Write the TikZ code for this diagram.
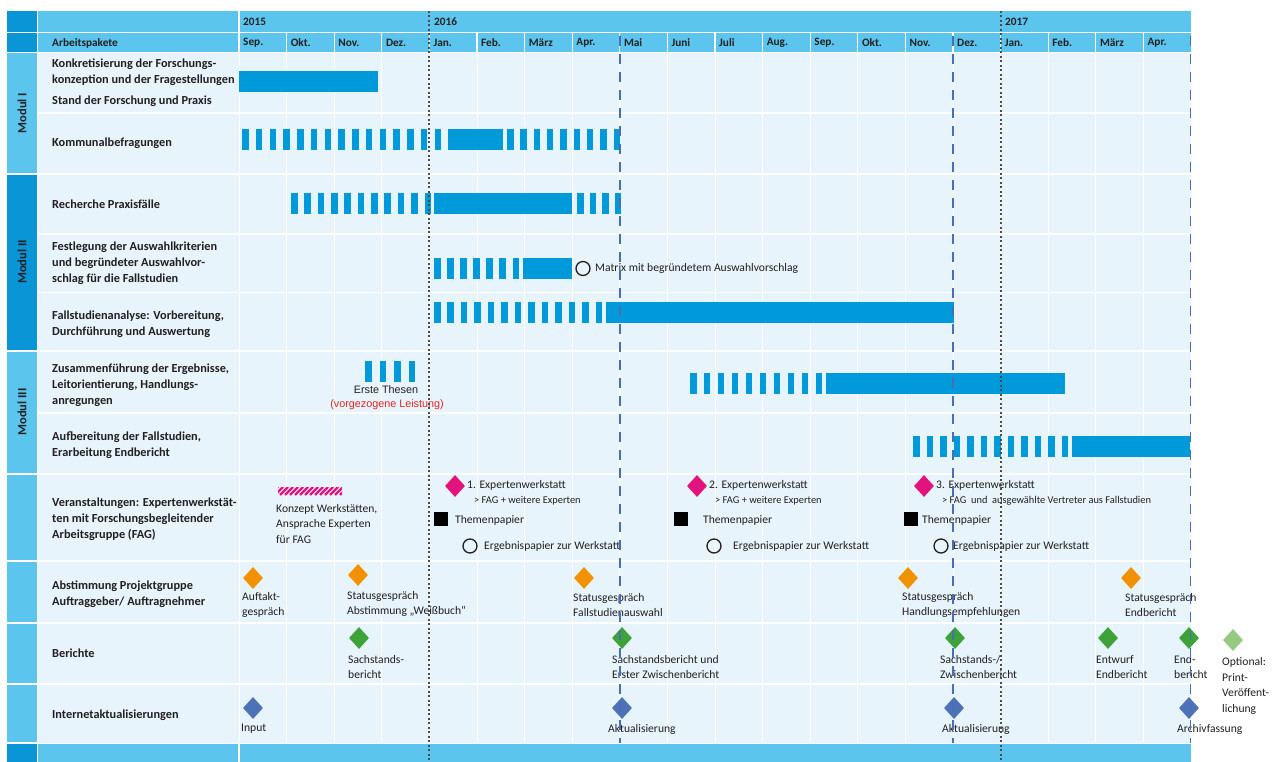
\documentclass[tikz,border=0pt]{standalone}
\usepackage{fontspec}
\setmainfont{Carlito}
\newfontfamily\arialf{Liberation Sans}
\usetikzlibrary{shapes.geometric}
\definecolor{hdr}{HTML}{5BC5EE}
\definecolor{hdrdark}{HTML}{0A96D6}
\definecolor{bodyc}{HTML}{E7F4FC}
\definecolor{barc}{HTML}{0099DA}
\definecolor{dashc}{HTML}{4A6DB3}
\definecolor{pinkc}{HTML}{E2137C}
\definecolor{orangec}{HTML}{F39200}
\definecolor{greenc}{HTML}{3DA23A}
\definecolor{lgreenc}{HTML}{98C982}
\definecolor{bluec}{HTML}{4D72B8}
\definecolor{txt}{HTML}{231F20}
\definecolor{redc}{HTML}{E52421}
\newcommand{\stripesrow}[4]{%
  \pgfmathsetmacro\stper{(#2-#1-6.5)/(#4-1)}%
  \foreach \k in {1,...,#4}{\fill[barc] ({#1+(\k-1)*\stper},{#3-10.5}) rectangle ++(6.5,21);}%
}
\tikzset{
  task/.style={anchor=west, align=left, inner sep=0, text=txt, font=\fontsize{12.3}{16}\selectfont\bfseries},
  hdrtxt/.style={anchor=west, inner sep=0, text=txt, font=\fontsize{11.3}{12}\selectfont\bfseries},
  lbl/.style={anchor=west, align=left, inner sep=0, text=txt, font=\fontsize{11.6}{15.5}\selectfont},
  sublbl/.style={anchor=west, inner sep=0, text=txt, font=\fontsize{10.4}{11}\selectfont},
  modtxt/.style={rotate=90, inner sep=0, text=txt, font=\fontsize{12.5}{13}\selectfont\bfseries},
  dia/.style={diamond, inner sep=0, minimum width=20, minimum height=22},
  opencirc/.style={circle, draw=txt, line width=1.3, minimum size=14, inner sep=0},
  blksq/.style={fill=black, minimum size=14, inner sep=0},
  gridl/.style={white, line width=0.8},
  rowl/.style={white, line width=1.8},
  dotl/.style={line width=2, black!70, dash pattern=on 2pt off 2.5pt},
  dashl/.style={line width=1.6, dashc, dash pattern=on 10pt off 8pt},
}
\begin{document}
\begin{tikzpicture}[x=1pt,y=-1pt]
\useasboundingbox (0,0) rectangle (1277,762);
% header
\fill[hdrdark] (7,11) rectangle (37,32);
\fill[hdrdark] (7,33) rectangle (37,52);
\fill[hdr] (38,11) rectangle (1191,32);
\fill[hdr] (38,33) rectangle (1191,52);
\draw[white, line width=1.2] (239,11) -- (239,52);
\foreach \i in {1,...,19}{\draw[white, line width=1.2] ({239+47.6*\i},33) -- ({239+47.6*\i},52);}
% body
\fill[bodyc] (38,53) rectangle (1191,743);
\foreach \i in {0,...,19}{\draw[gridl] ({239+47.6*\i},53) -- ({239+47.6*\i},743);}
\foreach \yy in {113,174,234,292.5,351,413,474,561,623,684}{\draw[rowl] (38,\yy) -- (1191,\yy);}
% module strips
\fill[hdr] (7,53) rectangle (37,173);
\fill[hdrdark] (7,175) rectangle (37,350);
\fill[hdr] (7,352) rectangle (37,473);
\fill[hdr] (7,475) rectangle (37,560);
\fill[hdr] (7,562) rectangle (37,622);
\fill[hdr] (7,624) rectangle (37,683);
\fill[hdr] (7,685) rectangle (37,742);
\fill[hdrdark] (7,744) rectangle (37,762);
\fill[hdr] (38,744) rectangle (1191,762);
\draw[white, line width=1.2] (239,744) -- (239,762);
\node[modtxt] (mod1) at (22,113) {Modul I};
\node[modtxt] (mod2) at (22,262) {Modul II};
\node[modtxt] (mod3) at (22,412) {Modul III};
% header text
\node[hdrtxt] (y2015) at (243,21.5) {2015};
\node[hdrtxt] (y2016) at (434,21.5) {2016};
\node[hdrtxt] (y2017) at (1005,21.5) {2017};
\node[hdrtxt] (ap) at (52,43) {Arbeitspakete};
\foreach \m [count=\i from 0] in {Sep.,Okt.,Nov.,Dez.,Jan.,Feb.,März,Apr.,Mai,Juni,Juli,Aug.,Sep.,Okt.,Nov.,Dez.,Jan.,Feb.,März,Apr.}{
  \node[hdrtxt] (mon\i) at ({239+47.6*\i+4},43) {\m};
}
% task labels
\node[task] (t1) at (52,72) {Konkretisierung der Forschungs-\\konzeption und der Fragestellungen};
\node[task] (t1b) at (52,101) {Stand der Forschung und Praxis};
\node[task] (t2) at (52,143) {Kommunalbefragungen};
\node[task] (t3) at (52,204) {Recherche Praxisfälle};
\node[task] (t4) at (52,263) {Festlegung der Auswahlkriterien\\und begründeter Auswahlvor-\\schlag für die Fallstudien};
\node[task] (t5) at (52,324) {Fallstudienanalyse: Vorbereitung,\\Durchführung und Auswertung};
\node[task] (t6) at (52,385) {Zusammenführung der Ergebnisse,\\Leitorientierung, Handlungs-\\anregungen};
\node[task] (t7) at (52,445) {Aufbereitung der Fallstudien,\\Erarbeitung Endbericht};
\node[task] (t8) at (52,519) {Veranstaltungen: Expertenwerkstät-\\ten mit Forschungsbegleitender\\Arbeitsgruppe (FAG)};
\node[task] (t9) at (52,594) {Abstimmung Projektgruppe\\Auftraggeber/ Auftragnehmer};
\node[task] (t10) at (52,653) {Berichte};
\node[task] (t11) at (52,715) {Internetaktualisierungen};
% bars
\fill[barc] (239,71) rectangle (378,92);
\stripesrow{242}{441}{139.5}{15}
\fill[barc] (448,129) rectangle (503,150);
\stripesrow{507}{620}{139.5}{9}
\stripesrow{291}{431}{204}{11}
\fill[barc] (434,193.5) rectangle (572,214.5);
\stripesrow{577}{621}{204}{4}
\stripesrow{434}{519}{268.5}{7}
\fill[barc] (523,258) rectangle (572,279);
\node[opencirc] (c0) at (583,268.5) {};
\node[sublbl, font=\fontsize{11.6}{12}\selectfont] (matrix) at (595,268.5) {Matrix mit begründetem Auswahlvorschlag};
\stripesrow{434}{602}{312}{13}
\fill[barc] (606,301.5) rectangle (954,322.5);
\stripesrow{365}{415}{371}{4}
\node[inner sep=0, text=txt, font=\arialf\fontsize{10.8}{12}\selectfont] (these) at (386,390) {Erste Thesen};
\node[inner sep=0, text=redc, font=\arialf\fontsize{10.8}{12}\selectfont] (vorg) at (387,405) {(vorgezogene Leistung)};
\stripesrow{690}{822}{383}{10}
\fill[barc] (826,372.5) rectangle (1065,393.5);
\stripesrow{913}{1068}{446}{12}
\fill[barc] (1072,435.5) rectangle (1190,456.5);
% Veranstaltungen
\begin{scope}
\clip (278,487) rectangle (342,495);
\foreach \k in {0,...,15}{\draw[pinkc, line width=2.2] ({270+\k*5},495) -- ++(8,-8);}
\end{scope}
\node[lbl] (konz) at (276,524) {Konzept Werkstätten,\\Ansprache Experten\\ für FAG};
\node[dia, fill=pinkc] (w1) at (455,486) {};
\node[lbl] (w1t) at (467,485) {1. Expertenwerkstatt};
\node[sublbl] (w1s) at (474,501) {> FAG + weitere Experten};
\node[blksq] (q1) at (441,519) {};
\node[lbl] (q1t) at (455,520) {Themenpapier};
\node[opencirc] (e1) at (470,546) {};
\node[lbl] (e1t) at (484,546) {Ergebnispapier zur Werkstatt};
\node[dia, fill=pinkc] (w2) at (697,486) {};
\node[lbl] (w2t) at (709,485) {2. Expertenwerkstatt};
\node[sublbl] (w2s) at (715,501) {> FAG + weitere Experten};
\node[blksq] (q2) at (681,519) {};
\node[lbl] (q2t) at (703,520) {Themenpapier};
\node[opencirc] (e2) at (714,546) {};
\node[lbl] (e2t) at (733,546) {Ergebnispapier zur Werkstatt};
\node[dia, fill=pinkc] (w3) at (924,486) {};
\node[lbl] (w3t) at (936,485) {3. Expertenwerkstatt};
\node[sublbl] (w3s) at (942,501) {> FAG\ \ und\ \ ausgewählte Vertreter aus Fallstudien};
\node[blksq] (q3) at (911,519) {};
\node[lbl] (q3t) at (922,520) {Themenpapier};
\node[opencirc] (e3) at (941,546) {};
\node[lbl] (e3t) at (953,546) {Ergebnispapier zur Werkstatt};
% Abstimmung
\node[dia, fill=orangec] (a1) at (253,578) {};
\node[dia, fill=orangec] (a2) at (358,575) {};
\node[dia, fill=orangec] (a3) at (584,578) {};
\node[dia, fill=orangec] (a4) at (908,578) {};
\node[dia, fill=orangec] (a5) at (1131,578) {};
\node[lbl] (a1t) at (242,605) {Auftakt-\\gespräch};
\node[lbl] (a2t) at (347,604) {Statusgespräch\\Abstimmung „Weißbuch“};
\node[lbl] (a3t) at (573,605) {Statusgespräch\\Fallstudienauswahl};
\node[lbl] (a4t) at (902,605) {Statusgespräch\\Handlungsempfehlungen};
\node[lbl] (a5t) at (1125,605) {Statusgespräch\\Endbericht};
% Berichte
\node[dia, fill=greenc] (b1) at (359,638) {};
\node[dia, fill=greenc] (b2) at (622,638) {};
\node[dia, fill=greenc] (b3) at (955,638) {};
\node[dia, fill=greenc] (b4) at (1108,638) {};
\node[dia, fill=greenc] (b5) at (1189,638) {};
\node[dia, fill=lgreenc] (b6) at (1233,640) {};
\node[lbl] (b1t) at (348,667) {Sachstands-\\bericht};
\node[lbl] (b2t) at (612,667) {Sachstandsbericht und\\Erster Zwischenbericht};
\node[lbl] (b3t) at (940,667) {Sachstands-/\\Zwischenbericht};
\node[lbl] (b4t) at (1096,667) {Entwurf\\Endbericht};
\node[lbl] (b5t) at (1174,667) {End-\\bericht};
\node[lbl] (b6t) at (1222,686) {Optional:\\Print-\\Veröffent-\\lichung};
% Internet
\node[dia, fill=bluec] (i1) at (253,708) {};
\node[dia, fill=bluec] (i2) at (622,708) {};
\node[dia, fill=bluec] (i3) at (954,708) {};
\node[dia, fill=bluec] (i4) at (1189,708) {};
\node[lbl] (i1t) at (241,729) {Input};
\node[lbl] (i2t) at (608,729) {Aktualisierung};
\node[lbl] (i3t) at (942,729) {Aktualisierung};
\node[lbl] (i4t) at (1177,729) {Archivfassung};
% milestone lines
\draw[dotl] (429.4,11) -- (429.4,762);
\draw[dotl] (1000.6,11) -- (1000.6,762);
\draw[dashl] (619.8,36) -- (619.8,743);
\draw[dashl] (953,36) -- (953,743);
\draw[dashl] (1190.5,36) -- (1190.5,743);
\end{tikzpicture}
\end{document}
